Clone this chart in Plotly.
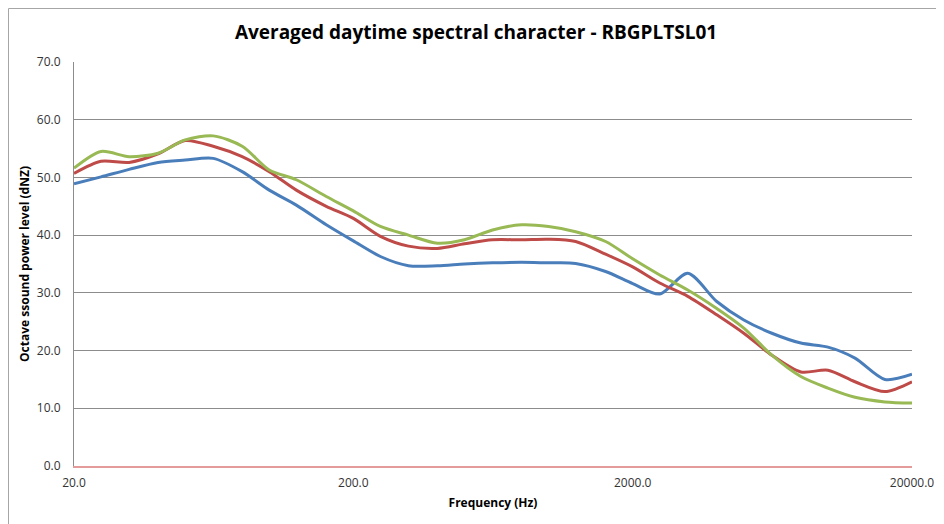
import plotly.graph_objects as go

# third-octave band centres (Hz)
freqs = [20, 25, 31.5, 40, 50, 63, 80, 100, 125, 160, 200, 250, 315, 400, 500,
         630, 800, 1000, 1250, 1600, 2000, 2500, 3150, 4000, 5000, 6300, 8000,
         10000, 12500, 16000, 20000]

blue_vals = [48.9, 50.1, 51.4, 52.6, 53.0, 53.3, 51.0, 47.8, 45.2, 41.8, 39.0,
             36.3, 34.7, 34.7, 35.0, 35.2, 35.3, 35.2, 35.1, 33.7, 31.6, 29.8,
             33.4, 28.5, 25.3, 23.0, 21.3, 20.6, 18.7, 15.0, 15.9]
red_vals = [50.7, 52.8, 52.6, 54.1, 56.4, 55.4, 53.6, 51.0, 47.8, 45.0, 42.9,
            39.8, 38.1, 37.7, 38.5, 39.2, 39.2, 39.3, 38.9, 36.7, 34.5, 31.7,
            29.4, 26.2, 23.0, 19.2, 16.3, 16.6, 14.6, 12.9, 14.6]
green_vals = [51.6, 54.5, 53.6, 54.2, 56.5, 57.2, 55.4, 51.3, 49.6, 46.7, 44.2,
              41.5, 40.0, 38.6, 39.2, 40.9, 41.8, 41.5, 40.6, 38.9, 35.9, 33.1,
              30.5, 27.3, 23.9, 19.2, 15.5, 13.5, 11.9, 11.1, 10.9]

x_ticks = [20, 200, 2000, 20000]
x_ticktext = ["20.0", "200.0", "2000.0", "20000.0"]

series = [
    (blue_vals, "#4A7EBB"),
    (red_vals, "#BE4B48"),
    (green_vals, "#98B954"),
]

font_family = "Open Sans, sans-serif"

# page body has an 8px margin, so the figure is a bit smaller than the window
W, H = 936, 516
L, R, T, B = 66, 32, 54, 58
pw, ph = W - L - R, H - T - B

fig = go.Figure()
for vals, col in series:
    fig.add_trace(go.Scatter(
        x=freqs, y=vals,
        mode="lines",
        line=dict(color=col, width=3, shape="spline", smoothing=0.8),
        hoverinfo="x+y",
    ))

fig.update_layout(
    width=W, height=H,
    margin=dict(l=L, r=R, t=T, b=B),
    paper_bgcolor="white",
    plot_bgcolor="white",
    showlegend=False,
    font=dict(family=font_family, size=12, color="#333333"),
    title=dict(
        text="<b>Averaged daytime spectral character - RBGPLTSL01</b>",
        x=0.5, xanchor="center", y=1 - 24 / H, yanchor="middle",
        font=dict(size=19, color="#000000"),
    ),
    xaxis=dict(
        type="log",
        range=[1.30103, 4.30103],
        tickvals=x_ticks,
        ticktext=x_ticktext,
        showgrid=False,
        zeroline=False,
        showline=True,
        linecolor="#E39C9A",
        linewidth=2,
        ticks="",
        ticklabelstandoff=5,
        automargin=False,
        title=dict(text="<b>Frequency (Hz)</b>", font=dict(size=12, color="#000000"), standoff=8),
    ),
    yaxis=dict(
        range=[0, 70],
        dtick=10,
        tickformat=".1f",
        showgrid=True,
        gridcolor="#8C8C8C",
        gridwidth=1,
        zeroline=False,
        showline=True,
        linecolor="#8C8C8C",
        linewidth=1,
        ticks="",
        ticklabelstandoff=10,
        automargin=False,
        title=dict(text="<b>Octave ssound power level (dNZ)</b>", font=dict(size=12, color="#000000"), standoff=4),
    ),
    shapes=[dict(
        type="rect", xref="paper", yref="paper",
        x0=(0.5 - L) / pw, x1=1.2,
        y0=-0.3, y1=1 + (T - 0.5) / ph,
        line=dict(color="#A6A6A6", width=1),
        fillcolor="rgba(0,0,0,0)",
        layer="below",
    )],
)

fig.write_html("out.html")
